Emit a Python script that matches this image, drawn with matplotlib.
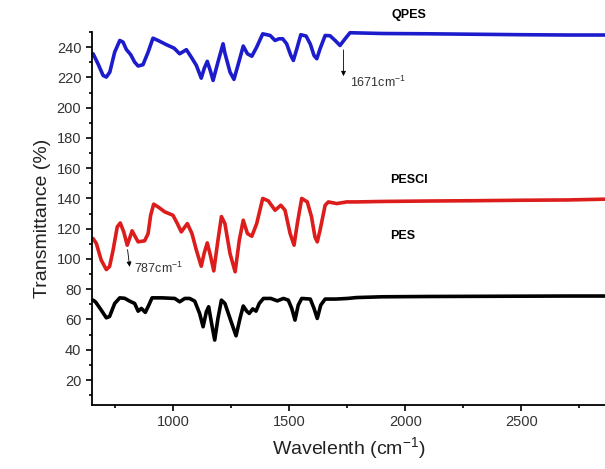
from matplotlib import pyplot as plt
from matplotlib import ticker

plt.rcParams["font.family"] = ["Liberation Sans", "DejaVu Sans"]
plt.rcParams["mathtext.fontset"] = "custom"
plt.rcParams["mathtext.rm"] = "Liberation Sans"
plt.rcParams["mathtext.default"] = "rm"

# wavenumber (cm-1) and transmittance (%)
QPES_X = [654, 675, 697, 711, 726, 747, 769, 783, 797, 816, 833, 848, 869, 891,
          912, 934, 970, 1003, 1027, 1056, 1077, 1099, 1120, 1133, 1146, 1160,
          1171, 1192, 1214, 1222, 1244, 1261, 1280, 1301, 1319, 1338, 1359, 1385,
          1417, 1438, 1455, 1471, 1488, 1506, 1517, 1532, 1549, 1572, 1590, 1606,
          1618, 1632, 1654, 1675, 1697, 1718, 1740, 1761, 1900, 2100, 2300, 2500,
          2700, 2860]
QPES_Y = [235.6, 229, 221.3, 220.2, 223.5, 236.7, 244.4, 243.3, 238.5, 235,
          230.1, 227.5, 228.4, 236.7, 245.9, 244.4, 241.6, 239.3, 235.6, 238.3,
          233.4, 227.9, 219.5, 226, 230.6, 224, 218, 230.1, 242.2, 236, 223.5,
          218.7, 229, 240.7, 235.6, 234, 240, 248.8, 247.7, 244.4, 245.5, 245.5,
          242.2, 234.5, 231.2, 238.9, 248.2, 247.3, 242, 234.5, 232.3, 238.9,
          247.7, 247.5, 244.4, 241.1, 245.5, 249.5, 249, 248.8, 248.5, 248.2, 248,
          248]

PESCI_X = [654, 668, 689, 711, 725, 740, 758, 771, 786, 801, 812, 822, 836, 848,
           876, 891, 902, 915, 934, 963, 998, 1017, 1034, 1060, 1080, 1099, 1120,
           1133, 1146, 1160, 1174, 1192, 1207, 1222, 1244, 1266, 1284, 1301, 1319,
           1338, 1359, 1385, 1409, 1438, 1463, 1481, 1503, 1520, 1534, 1553, 1577,
           1595, 1610, 1620, 1632, 1654, 1668, 1704, 1747, 1790, 1900, 2100, 2300,
           2500, 2700, 2860]
PESCI_Y = [113.5, 110.2, 99.2, 93, 95, 105.8, 121.2, 123.8, 117.9, 109.1, 114,
           118.6, 114.6, 111.3, 112, 116.8, 128.9, 136.2, 134.4, 131.1, 128.9,
           123.4, 117.9, 123.4, 116.8, 105.8, 95.2, 104, 110.6, 102, 92.1, 112.4,
           128, 123.4, 103.6, 91.5, 112.4, 125.6, 116.8, 115, 123.4, 140, 138.4,
           132.2, 135.5, 132.2, 116.8, 109.1, 123.4, 140, 137.7, 128, 114.6,
           111.3, 119, 135.5, 137.7, 136.6, 137.7, 137.7, 138, 138.3, 138.5,
           138.8, 139, 139.5]

PES_X = [654, 665, 689, 711, 725, 747, 769, 790, 812, 833, 848, 862, 879, 894,
         908, 950, 1006, 1027, 1049, 1070, 1092, 1113, 1128, 1142, 1152, 1165,
         1178, 1192, 1207, 1222, 1244, 1270, 1287, 1301, 1316, 1327, 1342, 1356,
         1370, 1388, 1420, 1448, 1474, 1495, 1510, 1524, 1538, 1553, 1590, 1606,
         1620, 1635, 1654, 1700, 1750, 1790, 1900, 2100, 2300, 2500, 2700, 2860]
PES_Y = [72.8, 71.5, 66.2, 61.1, 62, 70.6, 74.3, 74, 72.1, 70.6, 65.5, 67.3,
         64.7, 69.5, 74.3, 74.3, 73.9, 71.7, 73.9, 73.9, 72.1, 64, 55.2, 65.1,
         68.4, 57, 46.4, 60.7, 72.8, 70.6, 60.7, 49.2, 60.7, 68.9, 65.5, 64, 67,
         65.5, 70.6, 73.9, 73.9, 72.3, 73.9, 72.8, 67.3, 59.6, 69.5, 73.9, 73.5,
         67.3, 60.7, 69.5, 73.5, 73.5, 73.9, 74.5, 75, 75.2, 75.3, 75.4, 75.5,
         75.5]

SERIES = [
    ("QPES", QPES_X, QPES_Y, "#1c1ccc", (2016, 261.5)),
    ("PESCI", PESCI_X, PESCI_Y, "#dd1c1c", (2016, 152)),
    ("PES", PES_X, PES_Y, "black", (1990, 115)),
]

fig = plt.figure(figsize=(6.05, 4.69), dpi=100)
ax = fig.add_axes([0.1516, 0.1365, 0.8484, 0.7953])

for name, xs, ys, color, (lx, ly) in SERIES:
    ax.plot(xs, ys, color=color, lw=2.6, solid_joinstyle="round",
            solid_capstyle="round", clip_on=False)
    ax.text(lx, ly, name, fontsize=9, fontweight="bold", ha="center",
            va="center", clip_on=False)

arrow = dict(arrowstyle="-|>", color="black", lw=0.6, mutation_scale=7)
ax.annotate("", xy=(1733, 219), xytext=(1733, 240), arrowprops=arrow)
ax.text(1760, 216.7, "1671cm$^{-1}$", fontsize=9, color="#333333", va="center")
ax.annotate("", xy=(813, 93), xytext=(801, 108), arrowprops=arrow)
ax.text(830, 94, "787cm$^{-1}$", fontsize=9, color="#333333", va="center")

ax.set_xlim(648, 2860)
ax.set_ylim(3.5, 250)
ax.xaxis.set_major_locator(ticker.MultipleLocator(500))
ax.xaxis.set_minor_locator(ticker.MultipleLocator(250))
ax.yaxis.set_major_locator(ticker.MultipleLocator(20))
ax.yaxis.set_minor_locator(ticker.MultipleLocator(10))
ax.set_yticks(range(20, 241, 20))
ax.tick_params(which="major", length=4, width=1.2, labelsize=10.5,
               labelcolor="#333333")
ax.tick_params(which="minor", length=2.5, width=1.2)
for side in ["top", "right"]:
    ax.spines[side].set_visible(False)
for side in ["left", "bottom"]:
    ax.spines[side].set_linewidth(1.3)

ax.set_xlabel("Wavelenth (cm$^{-1}$)", fontsize=14, color="#222222")
ax.set_ylabel("Transmittance (%)", fontsize=14, color="#222222")

plt.savefig("out.png", dpi=100)
